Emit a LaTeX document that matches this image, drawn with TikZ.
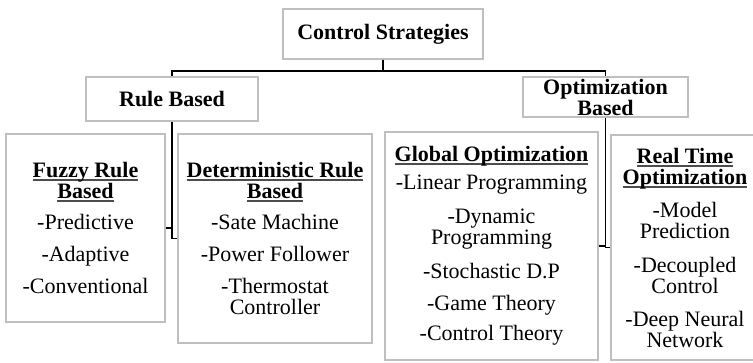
\documentclass[tikz,border=0pt]{standalone}
\usepackage{fontspec}
\setmainfont{Liberation Serif}
\usetikzlibrary{positioning}
% underlined heading with a heavy grey rule
\newcommand\hd[1]{\setbox0\hbox{\bfseries #1}\rlap{\color{black!70}\rule[-3.5pt]{\wd0}{1.8pt}}\box0}
\tikzset{
  box/.style={draw=black!25, line width=1.3pt, fill=white, inner sep=0pt,
    align=center, font=\fontsize{22}{21}\selectfont},
  wire/.style={draw=black, line width=1.8pt}
}
\begin{document}
\begin{tikzpicture}[x=1pt,y=-1pt]
\clip (0,0) rectangle (753,362);
\fill[white] (0,0) rectangle (753,362);

% top level
\node[box, minimum width=200pt, minimum height=50pt] (cs) at (383,34) {\bfseries Control Strategies};

% second level
\node[box, minimum width=172pt, minimum height=44pt] (rb) at (172,99) {\bfseries Rule Based};
\node[box, minimum width=165pt, minimum height=40pt] (ob) at (605.5,97) {\bfseries Optimization\\\bfseries Based};

% third level
\node[box, minimum width=159pt, minimum height=188pt] (fz) at (85.5,228)
  {\hd{Fuzzy Rule}\\\hd{Based}\\[10pt]-Predictive\\[11pt]-Adaptive\\[11pt]-Conventional};
\node[box, minimum width=194pt, minimum height=209pt] (dt) at (275,238.5)
  {\hd{Deterministic Rule}\\\hd{Based}\\[10pt]-Sate Machine\\[11pt]-Power Follower\\[11pt]-Thermostat\\Controller};
\node[box, minimum width=213pt, minimum height=228pt] (go) at (491.5,246)
  {\hd{Global Optimization}\\[7pt]-Linear Programming\\[13pt]-Dynamic\\Programming\\[13pt]-Stochastic D.P\\[11pt]-Game Theory\\[9pt]-Control Theory};
\node[box, minimum width=148pt, minimum height=225pt] (rt) at (685,247.5)
  {\hd{Real Time}\\\hd{Optimization}\\[12pt]-Model\\Prediction\\[13pt]-Decoupled\\Control\\[12pt]-Deep Neural\\Network};

% connectors
\draw[wire] (cs.south) -- ++(0,11) -| (rb.north);
\draw[wire] (cs.south) -- ++(0,11) -| (ob.north);
\draw[wire] (rb.south) |- (dt.west);
\draw[wire] (fz.east) -- (fz.east -| rb.south);
\draw[wire] (ob.south) |- (rt.west);
\draw[wire] (go.east) -- (go.east -| ob.south);
\end{tikzpicture}
\end{document}
